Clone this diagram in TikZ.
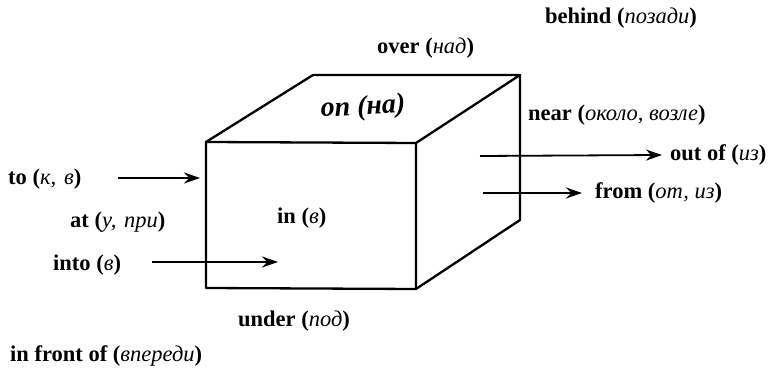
\documentclass[tikz,border=0pt]{standalone}
\usepackage{fontspec}
\setmainfont{Liberation Serif}[Ligatures=TeX]
\newfontfamily\tms{Liberation Serif}
\usetikzlibrary{arrows.meta}
\newcommand\ru[1]{{\mdseries\itshape #1}}
\begin{document}
\begin{tikzpicture}[x=1pt,y=-1pt,
  lbl/.style={font=\tms\fontsize{22.5}{26}\selectfont\bfseries, inner sep=0pt, anchor=west},
  edge/.style={line width=2.3pt, line join=round, line cap=round},
  arr/.style={line width=1.8pt, -{Stealth[length=16pt,width=11pt]}}]
\useasboundingbox (0,0) rectangle (772,371);
% cube corners
\coordinate (ftl) at (206,142);
\coordinate (ftr) at (416,143);
\coordinate (fbl) at (206,288);
\coordinate (fbr) at (416,289);
\coordinate (btl) at (313,75);
\coordinate (btr) at (520,75);
\coordinate (bbr) at (520,220);
\draw[edge] (ftl) -- (ftr) -- (fbr) -- (fbl) -- cycle;
\draw[edge] (ftl) -- (btl) -- (btr) -- (ftr);
\draw[edge] (btr) -- (bbr) -- (fbr);
% labels
\node[lbl] (to) at (8,179) {to (\ru{к,\hspace{8pt}в})};
\node[lbl] (at) at (70,222) {at (\ru{у, \kern2pt при})};
\node[lbl] (into) at (53,265) {into (\ru{в})};
\node[lbl] (in) at (277,218) {in (\ru{в})};
\node[lbl] (over) at (377,48) {over (\ru{над})};
\node[lbl] (behind) at (545,18) {behind (\ru{позади})};
\node[lbl] (near) at (528,115) {near (\ru{около, возле})};
\node[lbl] (outof) at (670,155) {out of (\ru{из})};
\node[lbl] (from) at (595,193) {from (\ru{от, из})};
\node[lbl] (under) at (238,321) {under (\ru{под})};
\node[lbl] (front) at (10,356) {in front of (\ru{впереди})};
\node[font=\tms\fontsize{28}{32}\selectfont\bfseries\itshape, inner sep=0pt, rotate=3] (on) at (363,108) {on (на)};
% arrows
\coordinate (toS) at (118,178);
\coordinate (toE) at (200,178);
\coordinate (intoS) at (152,262);
\coordinate (intoE) at (278,262);
\coordinate (outS) at (480,156);
\coordinate (fromS) at (483,193);
\draw[arr] (toS) -- (toE);
\draw[arr] (intoS) -- (intoE);
\draw[arr] (outS) -- ([xshift=-8pt]outof.west);
\draw[arr] (fromS) -- ([xshift=-13pt]from.west);
\end{tikzpicture}
\end{document}
